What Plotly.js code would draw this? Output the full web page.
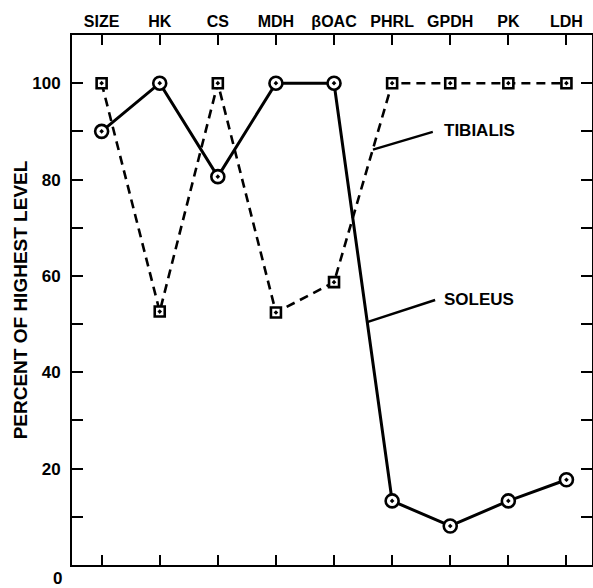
<!DOCTYPE html>
<html>
<head>
<meta charset="utf-8">
<script src="https://cdn.plot.ly/plotly-3.0.1.min.js"></script>
<style>html,body{margin:0;padding:0;background:#fff;}#chart{width:593px;height:588px;}</style>
</head>
<body>
<div id="chart"></div>
<script>
const categories = ["SIZE", "HK", "CS", "MDH", "βOAC", "PHRL", "GPDH", "PK", "LDH"];
const soleus = [90, 100, 80.6, 100, 100, 13.3, 8.1, 13.3, 17.7];
const tibialis = [100, 52.6, 100, 52.4, 58.7, 100, 100, 100, 100];
const yTickVals = [0, 10, 20, 30, 40, 50, 60, 70, 80, 90, 100];
const yTickText = ["", "", "20", "", "40", "", "60", "", "80", "", "100"];

const FONT = "Liberation Sans, Arial, sans-serif";
const xIdx = categories.map((c, i) => i);

const traces = [
  {
    x: xIdx, y: tibialis, type: "scatter", mode: "lines+markers", name: "TIBIALIS",
    line: {color: "#000", width: 2.6, dash: "9px,6px"},
    marker: {symbol: "square-dot", size: 10, color: "#fff", line: {color: "#000", width: 2.6}},
    cliponaxis: false
  },
  {
    x: xIdx, y: soleus, type: "scatter", mode: "lines+markers", name: "SOLEUS",
    line: {color: "#000", width: 3},
    marker: {symbol: "circle-dot", size: 13, color: "#fff", line: {color: "#000", width: 2.6}},
    cliponaxis: false
  }
];

const layout = {
  width: 593, height: 588,
  margin: {l: 72, r: 1, t: 35, b: 23, pad: 0},
  paper_bgcolor: "#fff", plot_bgcolor: "#fff",
  showlegend: false,
  font: {family: FONT, color: "#000", size: 16, weight: 700},
  xaxis: {
    range: [-0.51, 8.44], side: "top",
    tickmode: "array", tickvals: xIdx, ticktext: categories,
    ticks: "inside", ticklen: 10, tickwidth: 2, tickcolor: "#000",
    showline: true, linewidth: 2, linecolor: "#000", mirror: "ticks",
    showgrid: false, zeroline: false,
    tickfont: {family: FONT, size: 16, weight: 700, color: "#000"}
  },
  yaxis: {
    range: [0, 110],
    tickmode: "array", tickvals: yTickVals, ticktext: yTickText,
    ticks: "inside", ticklen: 11, tickwidth: 2, tickcolor: "#000",
    showline: true, linewidth: 2, linecolor: "#000", mirror: "ticks",
    showgrid: false, zeroline: false,
    tickfont: {family: FONT, size: 17, weight: 700, color: "#000"},
    ticklabelstandoff: 6,
    title: {text: "PERCENT OF HIGHEST LEVEL", font: {family: FONT, size: 19, weight: 700, color: "#000"}, standoff: 0}
  },
  shapes: [
    {type: "line", xref: "x", yref: "y", x0: 5.70, y0: 89.9, x1: 4.67, y1: 86.2, line: {color: "#000", width: 2.4}},
    {type: "line", xref: "x", yref: "y", x0: 5.74, y0: 55.0, x1: 4.57, y1: 50.4, line: {color: "#000", width: 2.4}}
  ],
  annotations: [
    {x: 5.85, y: 90.2, xref: "x", yref: "y", text: "TIBIALIS", showarrow: false, xanchor: "left", yanchor: "middle",
     font: {family: FONT, size: 17, weight: 700, color: "#000"}},
    {x: 5.85, y: 55.2, xref: "x", yref: "y", text: "SOLEUS", showarrow: false, xanchor: "left", yanchor: "middle",
     font: {family: FONT, size: 17, weight: 700, color: "#000"}},
    {x: 0, y: 0, xref: "paper", yref: "paper", text: "0", showarrow: false, xanchor: "right", yanchor: "middle",
     xshift: -8, yshift: -13, font: {family: FONT, size: 17, weight: 700, color: "#000"}}
  ]
};

Plotly.newPlot("chart", traces, layout, {displayModeBar: false, staticPlot: true});
</script>
</body>
</html>
